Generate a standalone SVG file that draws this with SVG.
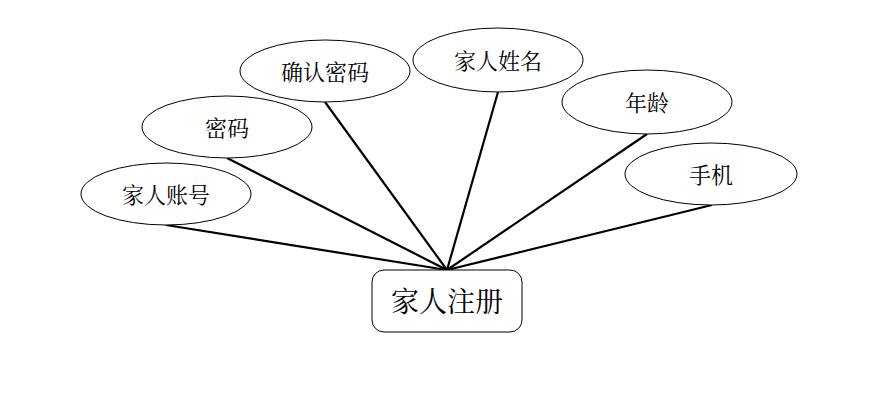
<svg xmlns="http://www.w3.org/2000/svg" width="896" height="396" viewBox="0 0 896 396">
<style>
.attr ellipse{fill:#fff;stroke:#000;stroke-width:1}
.attr text{font-family:"Noto Serif CJK SC","Noto Sans CJK SC",serif;font-size:22px;text-anchor:middle;dominant-baseline:central;fill:#000}
.ent rect{fill:#fff;stroke:#000;stroke-width:1}
.ent text{font-family:"Noto Serif CJK SC","Noto Sans CJK SC",serif;font-size:28px;text-anchor:middle;dominant-baseline:central;fill:#000}
.conn line{stroke:#000;stroke-width:2.2}
</style>
<rect width="896" height="396" fill="#fff"/>
<g id="connectors" class="conn">
<line x1="166" y1="225" x2="447" y2="270"/>
<line x1="227" y1="158" x2="447" y2="270"/>
<line x1="325" y1="102" x2="447" y2="270"/>
<line x1="498" y1="92" x2="447" y2="270"/>
<line x1="647" y1="134" x2="447" y2="270"/>
<line x1="712" y1="205" x2="447" y2="270"/>
</g>
<g id="jiarenzhuce" class="ent">
<rect x="372" y="270" width="150" height="62" rx="12"/>
<text x="447" y="300">家人注册</text>
</g>
<g id="jiarenzhanghao" class="attr">
<ellipse cx="166" cy="194" rx="85" ry="31"/>
<text x="166" y="193">家人账号</text>
</g>
<g id="mima" class="attr">
<ellipse cx="227" cy="127" rx="85" ry="31"/>
<text x="227" y="126">密码</text>
</g>
<g id="querenmima" class="attr">
<ellipse cx="325" cy="71" rx="85" ry="31"/>
<text x="325" y="70">确认密码</text>
</g>
<g id="jiarenxingming" class="attr">
<ellipse cx="498" cy="60" rx="85" ry="32"/>
<text x="498" y="59">家人姓名</text>
</g>
<g id="nianling" class="attr">
<ellipse cx="647" cy="102" rx="85" ry="32"/>
<text x="647" y="101">年龄</text>
</g>
<g id="shouji" class="attr">
<ellipse cx="711" cy="174" rx="86" ry="31"/>
<text x="711" y="173">手机</text>
</g>
</svg>
